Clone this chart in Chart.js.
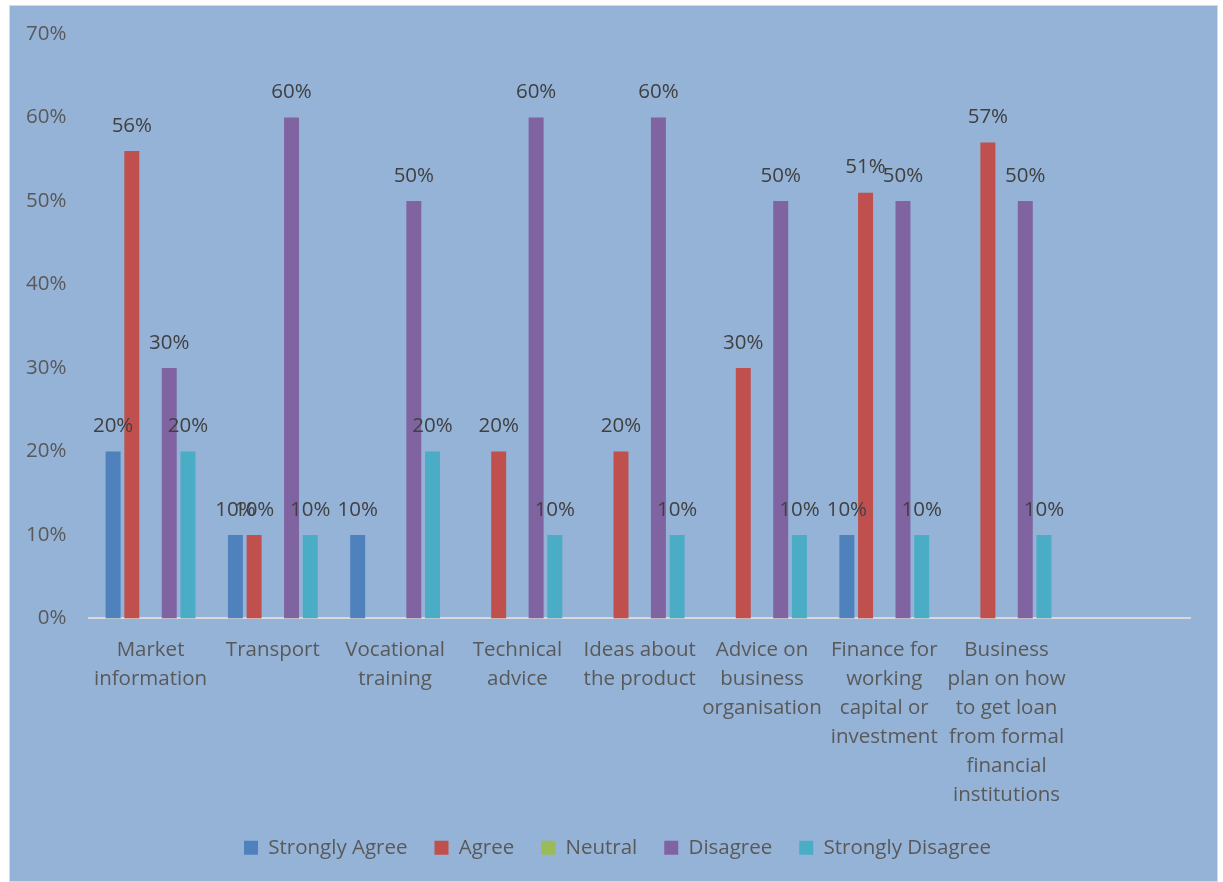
<!DOCTYPE html>
<html>
<head>
<meta charset="utf-8">
<script src="https://cdn.jsdelivr.net/npm/chart.js@4/dist/chart.umd.min.js"></script>
<style>
  body { margin: 0; background: #ffffff; }
  #frame {
    position: absolute; left: 9px; top: 5px; width: 1209px; height: 877px;
    background: #95B3D7; border: 1px solid #D9D9D9; box-sizing: border-box;
  }
  #chart { position: absolute; left: 0; top: 0; }
</style>
</head>
<body>
<div id="frame"></div>
<canvas id="chart" width="1223" height="882"></canvas>
<script>
const categories = [
  ["Market", "information"],
  ["Transport"],
  ["Vocational", "training"],
  ["Technical", "advice"],
  ["Ideas about", "the product"],
  ["Advice on", "business", "organisation"],
  ["Finance for", "working", "capital or", "investment"],
  ["Business", "plan on how", "to get loan", "from formal", "financial", "institutions"],
  ""
]

// percent values, null where no bar is drawn
const stronglyAgree    = [20, 10, 10, null, null, null, 10, null, null]
const agree            = [56, 10, null, 20, 20, 30, 51, 57, null]
const neutral          = [null, null, null, null, null, null, null, null, null]
const disagree         = [30, 60, 50, 60, 60, 50, 50, 50, null]
const stronglyDisagree = [20, 10, 20, 10, 10, 10, 10, 10, null]

const FONT = "'Open Sans', sans-serif"
const SIZE = 20.5

// value labels above each bar
const barLabels = {
  id: "barLabels",
  afterDatasetsDraw(chart) {
    const ctx = chart.ctx
    ctx.save()
    ctx.font = SIZE + "px " + FONT
    ctx.fillStyle = "#404040"
    ctx.textAlign = "center"
    ctx.textBaseline = "middle"
    chart.data.datasets.forEach((ds, i) => {
      chart.getDatasetMeta(i).data.forEach((bar, j) => {
        const v = ds.data[j]
        if (v == null) return
        ctx.fillText(v + "%", bar.x, bar.y - 25)
      })
    })
    ctx.restore()
  }
}

// nudge the legend row a little to the right
const legendShift = {
  id: "legendShift",
  afterLayout(chart) {
    chart.legend.left += 17
    chart.legend.right += 17
  }
}

new Chart(document.getElementById("chart").getContext("2d"), {
  type: "bar",
  data: {
    labels: categories,
    datasets: [
      { label: "Strongly Agree", data: stronglyAgree, backgroundColor: "#4F81BD" },
      { label: "Agree", data: agree, backgroundColor: "#C0504D" },
      { label: "Neutral", data: neutral, backgroundColor: "#9BBB59" },
      { label: "Disagree", data: disagree, backgroundColor: "#8064A2" },
      { label: "Strongly Disagree", data: stronglyDisagree, backgroundColor: "#4BACC6" }
    ]
  },
  options: {
    responsive: false,
    animation: false,
    categoryPercentage: 0.765,
    barPercentage: 0.8,
    layout: { padding: { left: 11, right: 33, top: 34, bottom: 14 } },
    scales: {
      x: {
        grid: { display: false },
        border: { display: true, color: "#D9D9D9", width: 2 },
        ticks: {
          color: "#595959",
          font: { family: FONT, size: SIZE, lineHeight: 1.415 },
          padding: 9,
          maxRotation: 0,
          autoSkip: false
        },
        afterFit: s => { s.height -= 8 }
      },
      y: {
        min: 0,
        max: 70,
        grid: { display: false },
        border: { display: false },
        ticks: {
          stepSize: 10,
          color: "#595959",
          font: { family: FONT, size: SIZE },
          padding: 15,
          callback: v => v + "%"
        }
      }
    },
    plugins: {
      tooltip: { enabled: false },
      legend: {
        position: "bottom",
        labels: {
          color: "#595959",
          font: { family: FONT, size: SIZE },
          boxWidth: 14,
          boxHeight: 14,
          padding: 27
        }
      }
    }
  },
  plugins: [barLabels, legendShift]
})
</script>
</body>
</html>
